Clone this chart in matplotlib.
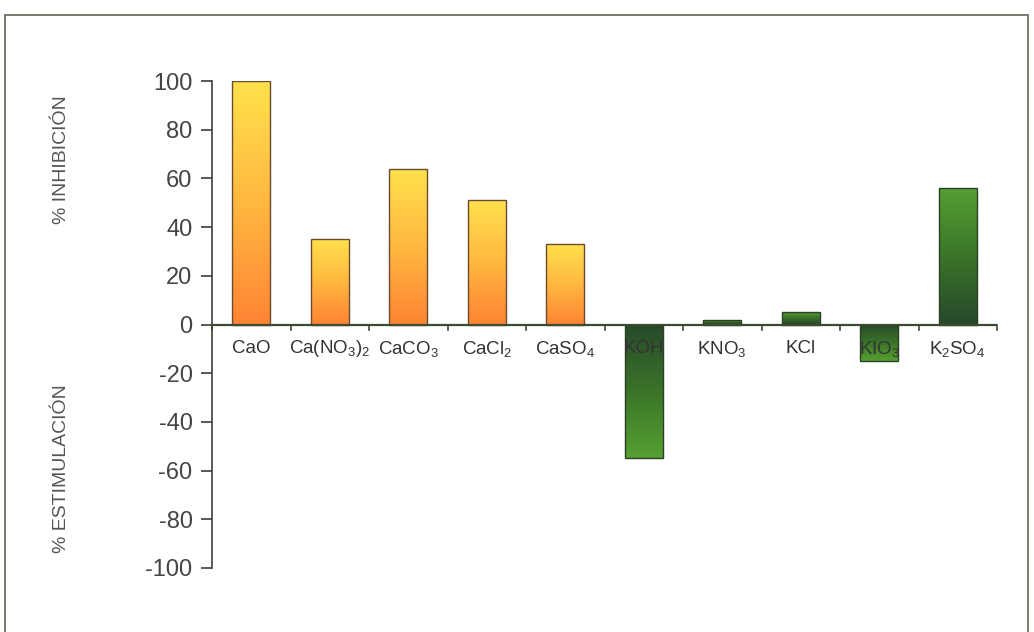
import numpy as np
import matplotlib
matplotlib.use('Agg')
import matplotlib.pyplot as plt
from matplotlib.colors import LinearSegmentedColormap
from matplotlib.patches import Rectangle

plt.rcParams['font.family'] = ['Liberation Sans', 'DejaVu Sans']
plt.rcParams['mathtext.default'] = 'regular'

labels = ['CaO', r'Ca(NO$_3$)$_2$', r'CaCO$_3$', r'CaCl$_2$', r'CaSO$_4$',
          'KOH', r'KNO$_3$', 'KCl', r'KIO$_3$', r'K$_2$SO$_4$']
values = [100, 35, 64, 51, 33, -55, 2, 5, -15, 56]
group = ['Ca'] * 5 + ['K'] * 5
yticks = [100, 80, 60, 40, 20, 0, -20, -40, -60, -80, -100]

# colour at the axis -> colour at the bar tip
cmaps = {
    'Ca': LinearSegmentedColormap.from_list('ca', ['#ff8434', '#ffb840', '#ffe24c']),
    'K': LinearSegmentedColormap.from_list('k', ['#27492a', '#3a7428', '#56a032']),
}
edges = {'Ca': '#6a4a30', 'K': '#2c4026'}

fig = plt.figure(figsize=(10.34, 6.32), dpi=100)
fig.patches.append(Rectangle((5 / 1034, -0.05), 1023 / 1034, 1.05 - 15 / 632,
                             transform=fig.transFigure, fill=False,
                             edgecolor='#6c7264', linewidth=1.3))

ax = fig.add_axes([212 / 1034, (632 - 568) / 632, 785 / 1034, 487 / 632])
x = np.arange(len(values))
bars = ax.bar(x, values, width=0.49, color='none', edgecolor='none', zorder=3)
grad = np.linspace(0, 1, 256).reshape(-1, 1)
for b, v, g in zip(bars, values, group):
    x0 = b.get_x()
    x1 = x0 + b.get_width()
    im = ax.imshow(grad, cmap=cmaps[g], extent=(x0, x1, 0, v), origin='lower',
                   aspect='auto', zorder=2, interpolation='bilinear')
    im.set_clip_path(b)
    ax.add_patch(Rectangle((x0, 0), b.get_width(), v, fill=False,
                           edgecolor=edges[g], linewidth=1.0, zorder=4))

ax.set_xlim(-0.5, 9.5)
ax.set_ylim(-100, 100)

for s in ['top', 'right', 'bottom']:
    ax.spines[s].set_visible(False)
ax.spines['left'].set_color('#3a3f36')
ax.spines['left'].set_linewidth(1.2)
ax.axhline(0, color='#3c4a30', linewidth=1.6, zorder=5)
ax.set_yticks(yticks)
ax.set_yticklabels([str(t) for t in yticks])
ax.tick_params(axis='y', direction='out', length=8, width=1.2, color='#3a3f36',
               labelsize=17, labelcolor='#444444', pad=6)
ax.set_xticks([])
for b in np.arange(-0.5, 10, 1.0):
    ax.plot([b, b], [0, -2.2], color='#3c4a30', linewidth=1.2, zorder=5,
            clip_on=False)

for xi, lab in zip(x, labels):
    ax.text(xi, -10, lab, ha='center', va='center', fontsize=13.5,
            color='#333333', zorder=6)

fig.text(62 / 1034, 1 - 160 / 632, '% INHIBICIÓN', rotation=90, ha='center',
         va='center', fontsize=14, color='#555555')
fig.text(62 / 1034, 1 - 469 / 632, '% ESTIMULACIÓN', rotation=90, ha='center',
         va='center', fontsize=14, color='#555555')

fig.savefig('out.png', dpi=100)
